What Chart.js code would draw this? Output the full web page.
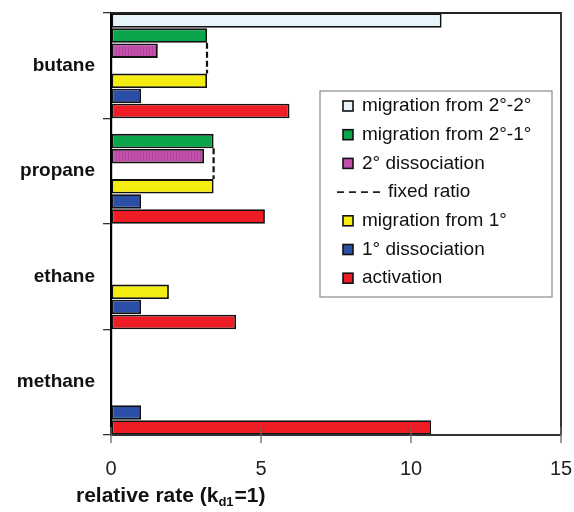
<!DOCTYPE html>
<html><head><meta charset="utf-8">
<script src="https://cdn.jsdelivr.net/npm/chart.js@4/dist/chart.umd.min.js"></script>
<style>html,body{margin:0;padding:0;background:#fff;} #wrap{width:574px;height:512px;position:relative;}</style>
</head><body><div id="wrap"><canvas id="c" width="574" height="512"></canvas></div>
<script>
const categories = ['butane', 'propane', 'ethane', 'methane'];
const activation = [5.95, 5.13, 4.17, 10.67];
const dissociation1 = [1.0, 1.0, 1.0, 1.0];
const migration1 = [3.2, 3.42, 1.93, null];
const fixedRatio = [3.2, 3.42, null, null];
const dissociation2 = [1.56, 3.1, null, null];
const migration21 = [3.2, 3.42, null, null];
const migration22 = [11.02, null, null, null];
const xTickValues = [0, 5, 10, 15];
const seriesLabels = ['migration from 2°-2°', 'migration from 2°-1°', '2° dissociation', 'fixed ratio', 'migration from 1°', '1° dissociation', 'activation'];
const axisTitleParts = ['relative rate (k', 'd1', '=1)'];

function magentaPattern() {
  const p = document.createElement('canvas');
  p.width = 3; p.height = 4;
  const g = p.getContext('2d');
  g.fillStyle = '#C552AC'; g.fillRect(0, 0, 3, 4);
  g.fillStyle = '#B4439B'; g.fillRect(2, 0, 1, 4);
  return g.createPattern(p, 'repeat');
}
const pat = magentaPattern();
const colors = ['#E7F4FC', '#0BA64B', pat, 'rgba(0,0,0,0)', '#F5EC12', '#2B4FA7', '#EE1D25'];
const legendSwatch = ['#E7F4FC', '#0BA64B', '#C24EAA', null, '#F5EC12', '#2B4FA7', '#EE1D25'];
const seriesData = [migration22, migration21, dissociation2, fixedRatio, migration1, dissociation1, activation];

const datasets = seriesData.map((d, i) => ({
  label: seriesLabels[i],
  data: d,
  backgroundColor: colors[i],
  borderColor: i === 3 ? 'rgba(0,0,0,0)' : '#111',
  borderWidth: i === 3 ? 0 : 1.8,
  borderSkipped: false,
  barPercentage: 0.96,
  categoryPercentage: 1.0
}));

const FONT = "'Liberation Sans', Arial, sans-serif";

const decor = {
  id: 'decor',
  afterDatasetsDraw(chart) {
    const ctx = chart.ctx;
    const ca = chart.chartArea;
    const xs = chart.scales.x;
    const mFix = chart.getDatasetMeta(3), mTop = chart.getDatasetMeta(1), mBot = chart.getDatasetMeta(4);
    ctx.save();
    ctx.strokeStyle = '#111';
    ctx.lineWidth = 2.2;
    ctx.setLineDash([6, 3]);
    mFix.data.forEach((el, i) => {
      if (fixedRatio[i] == null) return;
      const a = mTop.data[i], b = mBot.data[i];
      const y1 = a.y + a.height / 2, y2 = b.y - b.height / 2;
      ctx.beginPath();
      ctx.moveTo(el.x, y1);
      ctx.lineTo(el.x, y2);
      ctx.stroke();
    });
    ctx.restore();
    ctx.save();
    ctx.strokeStyle = '#222';
    ctx.lineWidth = 1.8;
    ctx.beginPath();
    ctx.moveTo(ca.left, ca.top);
    ctx.lineTo(ca.right, ca.top);
    ctx.lineTo(ca.right, ca.bottom);
    ctx.stroke();
    ctx.strokeStyle = '#333';
    ctx.lineWidth = 2;
    ctx.beginPath();
    ctx.moveTo(ca.left, ca.bottom);
    ctx.lineTo(ca.right, ca.bottom);
    ctx.stroke();
    ctx.strokeStyle = '#666';
    ctx.lineWidth = 1.3;
    xTickValues.forEach(v => {
      const x = xs.getPixelForValue(v);
      ctx.beginPath();
      ctx.moveTo(x, ca.bottom - 8);
      ctx.lineTo(x, ca.bottom + 8);
      ctx.stroke();
    });
    ctx.restore();
  },
  afterDraw(chart) {
    const ctx = chart.ctx;
    const bx = 320, by = 91, bw = 232, bh = 206;
    ctx.save();
    ctx.fillStyle = '#fff';
    ctx.fillRect(bx, by, bw, bh);
    ctx.strokeStyle = '#8a8a8a';
    ctx.lineWidth = 1.2;
    ctx.strokeRect(bx, by, bw, bh);
    ctx.font = '19px ' + FONT;
    ctx.textBaseline = 'middle';
    ctx.fillStyle = '#111';
    seriesLabels.forEach((lab, i) => {
      const cy = by + 15 + i * 28.7;
      if (legendSwatch[i] === null) {
        ctx.save();
        ctx.strokeStyle = '#222';
        ctx.lineWidth = 1.6;
        ctx.setLineDash([7, 5]);
        ctx.beginPath();
        ctx.moveTo(337, cy);
        ctx.lineTo(380, cy);
        ctx.stroke();
        ctx.restore();
        ctx.fillText(lab, 388, cy);
      } else {
        ctx.fillStyle = legendSwatch[i];
        ctx.fillRect(343, cy - 5, 10, 10);
        ctx.strokeStyle = '#111';
        ctx.lineWidth = 1.6;
        ctx.strokeRect(343, cy - 5, 10, 10);
        ctx.fillStyle = '#111';
        ctx.fillText(lab, 362, cy);
      }
    });
    ctx.restore();
    ctx.save();
    ctx.fillStyle = '#111';
    ctx.textBaseline = 'alphabetic';
    let x = 76;
    const base = 502;
    ctx.font = 'bold 21px ' + FONT;
    ctx.fillText(axisTitleParts[0], x, base);
    x += ctx.measureText(axisTitleParts[0]).width;
    ctx.font = 'bold 13px ' + FONT;
    ctx.fillText(axisTitleParts[1], x, base + 4);
    x += ctx.measureText(axisTitleParts[1]).width + 1;
    ctx.font = 'bold 21px ' + FONT;
    ctx.fillText(axisTitleParts[2], x, base);
    ctx.restore();
  }
};

new Chart(document.getElementById('c'), {
  type: 'bar',
  data: { labels: categories, datasets },
  options: {
    indexAxis: 'y',
    responsive: false,
    animation: false,
    devicePixelRatio: 1,
    layout: { padding: { top: 13, right: 13, left: 0, bottom: 0 } },
    plugins: { legend: { display: false }, tooltip: { enabled: false } },
    scales: {
      y: {
        type: 'category',
        offset: true,
        grid: { offset: true, drawOnChartArea: false, drawTicks: true, tickLength: 8, color: '#333', lineWidth: 1.3 },
        border: { display: true, color: '#000', width: 2.2 },
        ticks: { font: { family: FONT, size: 19, weight: 'bold' }, color: '#111', padding: 8 },
        afterFit(s) { s.width = 111; s.paddingTop = 0; s.paddingBottom = 0; }
      },
      x: {
        min: 0, max: 15,
        afterBuildTicks(s) { s.ticks = xTickValues.map(v => ({ value: v })); },
        grid: { drawOnChartArea: false, drawTicks: false },
        border: { display: false },
        ticks: { font: { family: FONT, size: 20 }, color: '#222', padding: 22 },
        afterFit(s) { s.height = 77; s.paddingLeft = 0; s.paddingRight = 0; }
      }
    }
  },
  plugins: [decor]
});
</script>
</body></html>
